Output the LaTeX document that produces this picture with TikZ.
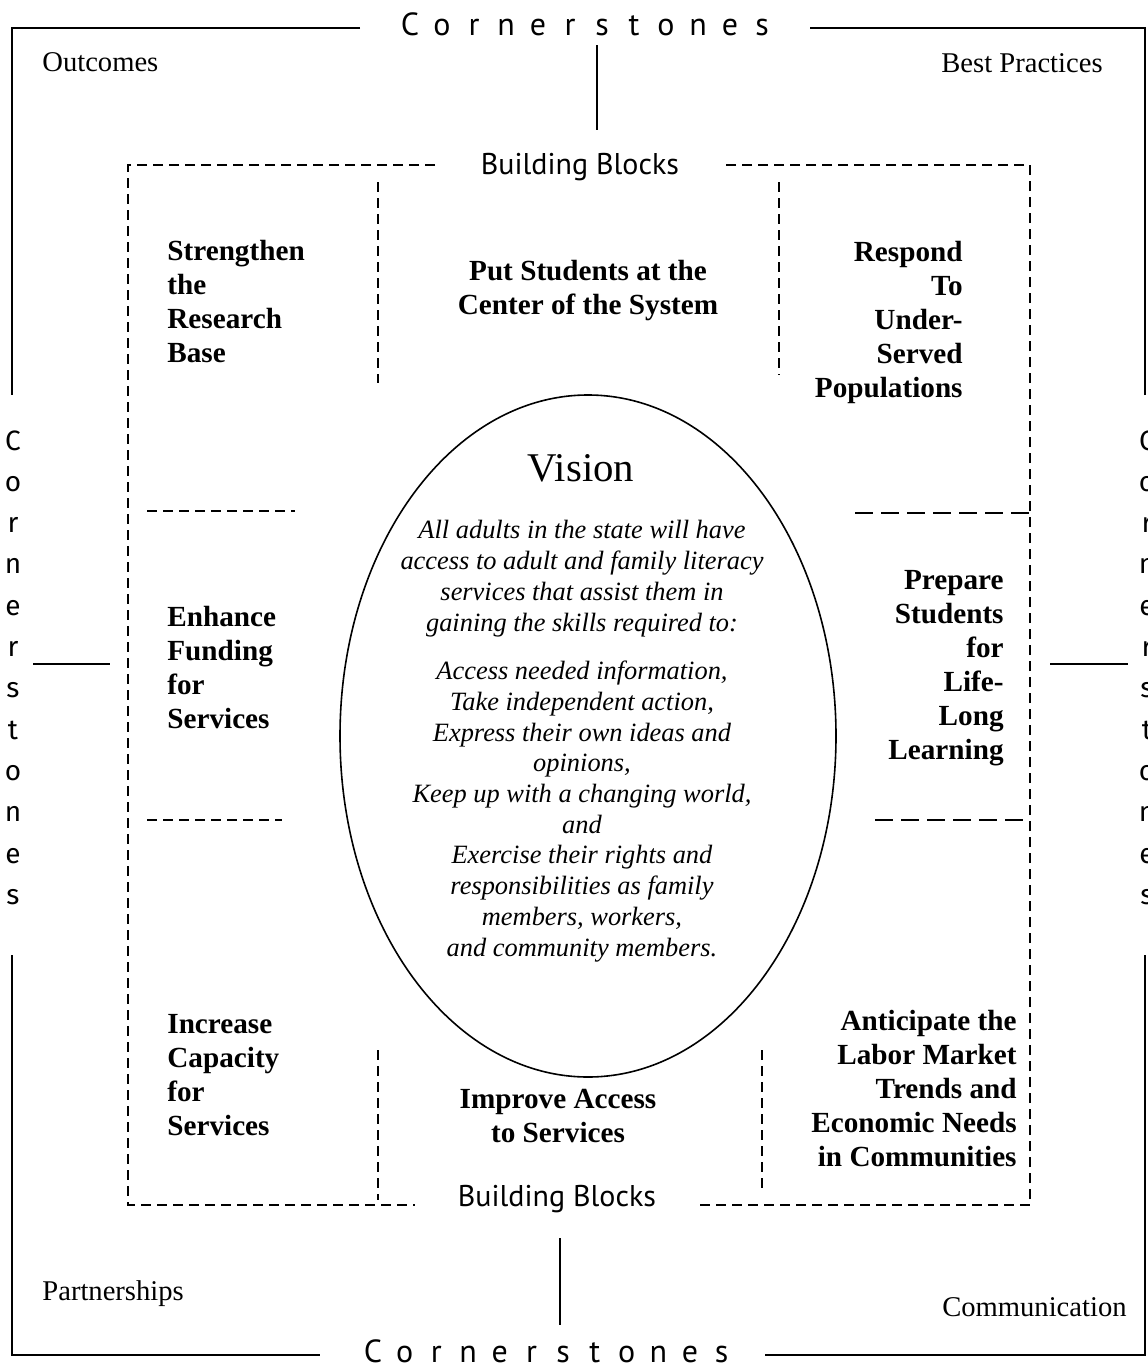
\documentclass[tikz,border=0pt]{standalone}
\usepackage{fontspec}
\setmainfont{Liberation Serif}
\newfontfamily\blockfont{PT Sans}
\newfontfamily\stonefont{Fira Sans}
\usetikzlibrary{shapes.geometric}

\begin{document}
\begin{tikzpicture}[x=0.5pt,y=-0.5pt,
  frame/.style={line width=1pt},
  blockline/.style={line width=0.7pt, dash pattern=on 5pt off 3pt},
  wideline/.style={line width=0.8pt, dash pattern=on 9pt off 4pt},
  goal/.style={inner sep=0pt, font=\fontsize{14.6}{17}\selectfont\bfseries},
  corner/.style={inner sep=0pt, font=\fontsize{14.3}{17}\selectfont},
  blocks/.style={inner sep=0pt, font=\blockfont\fontsize{15}{18}\selectfont},
  stone/.style={inner sep=0pt, anchor=base, font=\blockfont\fontsize{16}{18}\selectfont},
  sidestone/.style={inner sep=0pt, anchor=base, font=\stonefont\fontsize{14}{18}\selectfont}]
  \useasboundingbox (0,0) rectangle (1147,1365);

  % outer frame, open where the cornerstone labels sit
  \draw[frame] (360,28) -- (12,28) -- (12,395);
  \draw[frame] (12,955) -- (12,1355) -- (320,1355);
  \draw[frame] (765,1355) -- (1145,1355) -- (1145,955);
  \draw[frame] (1145,395) -- (1145,28) -- (810,28);
  \draw[frame] (597,45) -- (597,130);
  \draw[frame] (560,1238) -- (560,1325);
  \draw[frame] (33,664) -- (110,664);
  \draw[frame] (1050,664) -- (1128,664);

  % spaced-out labels on the four sides
  \foreach \ch [count=\i] in {C,o,r,n,e,r,s,t,o,n,e,s} {
    \node[stone] (ct\i) at ({410+32*(\i-1)},35) {\ch};
    \node[stone] (cb\i) at ({373+31.7*(\i-1)},1362) {\ch};
    \node[sidestone] (cl\i) at (13,{450+41.3*(\i-1)}) {\ch};
    \node[sidestone] (cr\i) at (1147,{450+41.3*(\i-1)}) {\ch};
  }

  \node[corner, anchor=base west] (outc) at (42,71) {Outcomes};
  \node[corner, anchor=base east] (best) at (1103,72) {Best Practices};
  \node[corner, anchor=base west] (part) at (42,1300) {Partnerships};
  \node[corner, anchor=base east] (comm) at (1127,1316) {Communication};

  % building blocks box
  \node[blocks] (bbtop) at (580,167) {Building Blocks};
  \node[blocks] (bbbot) at (557,1199) {Building Blocks};
  \draw[blockline] (435,165) -- (128,165) -- (128,1205) -- (415,1205);
  \draw[blockline] (700,1205) -- (1030,1205) -- (1030,165) -- (725,165);
  \draw[blockline] (378,182) -- (378,383);
  \draw[blockline] (779,182) -- (779,375);
  \draw[blockline] (378,1050) -- (378,1200);
  \draw[blockline] (762,1050) -- (762,1190);
  \draw[blockline] (147,511) -- (295,511);
  \draw[blockline] (147,820) -- (282,820);
  \draw[wideline] (855,513) -- (1030,513);
  \draw[wideline] (875,820) -- (1030,820);

  % goals (anchored on the baseline of their last line)
  \node[goal, anchor=base west, align=left] (sr) at (167,362) {Strengthen\\the\\Research\\Base};
  \node[goal, anchor=base, align=center] (ps) at (588,314) {Put Students at the\\Center of the System};
  \node[goal, anchor=base east, align=right] (ru) at (963,397) {Respond\\To\\Under-\\Served\\Populations};
  \node[goal, anchor=base west, align=left] (ef) at (167,728) {Enhance\\Funding\\for\\Services};
  \node[goal, anchor=base east, align=right] (pl) at (1004,759) {Prepare\\Students\\for\\Life-\\Long\\Learning};
  \node[goal, anchor=base west, align=left] (ic) at (167,1135) {Increase\\Capacity\\for\\Services};
  \node[goal, anchor=base, align=center] (ia) at (558,1142) {Improve Access\\to Services};
  \node[goal, anchor=base east, align=right] (al) at (1017,1166) {Anticipate the\\Labor Market\\Trends and\\Economic Needs\\in Communities};

  % the vision in the middle
  \node[draw, ellipse, line width=0.8pt, inner sep=0pt, minimum width=248pt, minimum height=341pt] (vision) at (588,736) {};
  \node[inner sep=0pt, anchor=base, font=\fontsize{20.4}{24}\selectfont] (vtitle) at (581,481) {Vision};
  \node[inner sep=0pt, anchor=base, align=center, font=\fontsize{13.2}{15.35}\selectfont\itshape] (vtext) at (582,956)
    {All adults in the state will have\\access to adult and family literacy\\services that assist them in\\gaining the skills required to:\\[9pt]
     Access needed information,\\Take independent action,\\Express their own ideas and\\opinions,\\Keep up with a changing world,\\and\\
     Exercise their rights and\\responsibilities as family\\members, workers,\\and community members.};
\end{tikzpicture}
\end{document}
